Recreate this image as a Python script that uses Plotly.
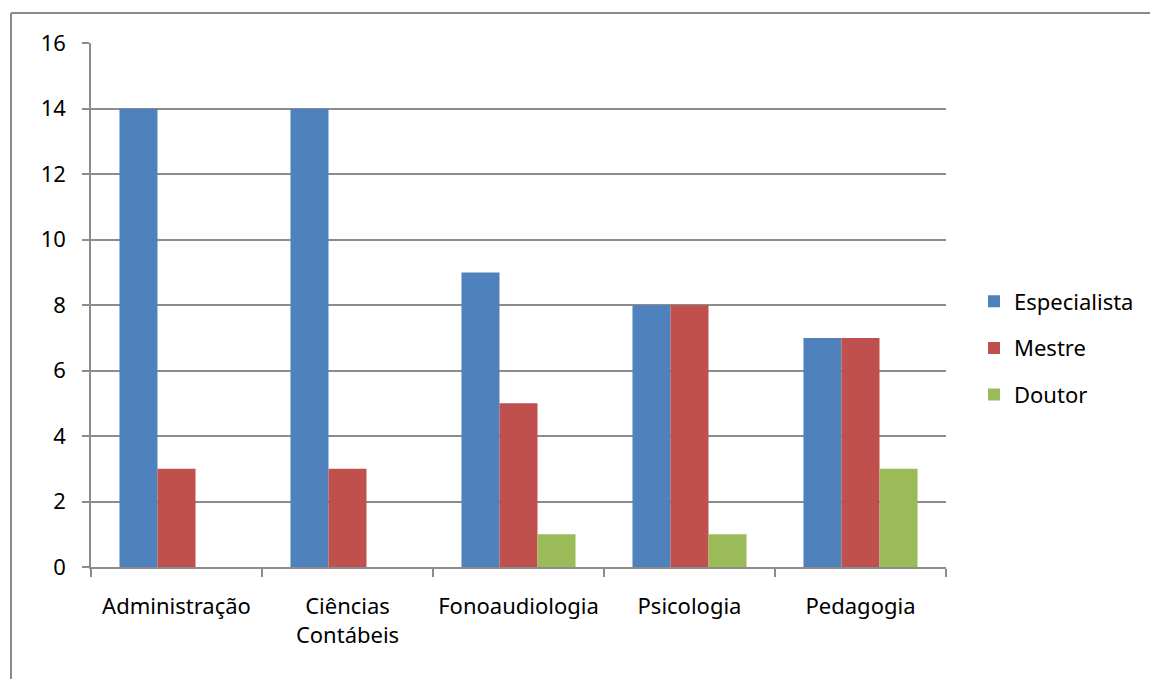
import plotly.graph_objects as go

# Course categories and counts of faculty by degree level
cursos = ["Administração", "Ciências<br>Contábeis", "Fonoaudiologia", "Psicologia", "Pedagogia"]
especialista = [14, 14, 9, 8, 7]
mestre = [3, 3, 5, 8, 7]
doutor = [0, 0, 1, 1, 3]

y_ticks = [0, 2, 4, 6, 8, 10, 12, 14, 16]

FONT = "Noto Sans"
FS = 22
GRID = "#8c8c8c"

fig = go.Figure()
series = [
    ("Especialista", especialista, "#4F81BD"),
    ("Mestre", mestre, "#C0504D"),
    ("Doutor", doutor, "#9BBB59"),
]
for name, vals, color in series:
    fig.add_trace(go.Bar(
        x=cursos, y=vals, name=name, legendgroup=name,
        marker=dict(color=color, line=dict(width=0)),
    ))

fig.update_layout(
    width=1150, height=679,
    margin=dict(l=91, r=204, t=43, b=112),
    paper_bgcolor="white", plot_bgcolor="white",
    barmode="group", bargap=0.333, bargroupgap=0,
    font=dict(family=FONT, size=FS, color="#000000"),
    legend=dict(
        xref="container", yref="container",
        x=974 / 1150, xanchor="left", y=1 - 348 / 679, yanchor="middle",
        font=dict(family=FONT, size=FS),
        tracegroupgap=15, itemwidth=30,
        bgcolor="rgba(0,0,0,0)",
    ),
    xaxis=dict(
        showline=True, linecolor=GRID, linewidth=1.5,
        ticks="outside", tickson="boundaries", ticklen=8, tickcolor=GRID, tickwidth=1.5,
        showgrid=False, tickfont=dict(family=FONT, size=FS),
        tickangle=0, automargin=False,
        ticklabelstandoff=19,
        fixedrange=True,
    ),
    yaxis=dict(
        range=[0, 16.01], tickvals=y_ticks,
        showline=True, linecolor=GRID, linewidth=1.5,
        ticks="outside", ticklen=7, tickcolor=GRID, tickwidth=1.5,
        showgrid=True, gridcolor=GRID, gridwidth=1.5,
        zeroline=False, tickfont=dict(family=FONT, size=FS),
        automargin=False,
        ticklabelstandoff=12,
    ),
    shapes=[
        # chart frame (left and top edges)
        dict(type="line", xref="paper", yref="paper",
             x0=-80 / 855, x1=-80 / 855, y0=1 + 30 / 524, y1=-112 / 524,
             line=dict(color="#8a8a8a", width=2)),
        dict(type="line", xref="paper", yref="paper",
             x0=-80 / 855, x1=1 + 204 / 855, y0=1 + 30 / 524, y1=1 + 30 / 524,
             line=dict(color="#8a8a8a", width=2)),
    ],
)

fig.write_html("out.html")
